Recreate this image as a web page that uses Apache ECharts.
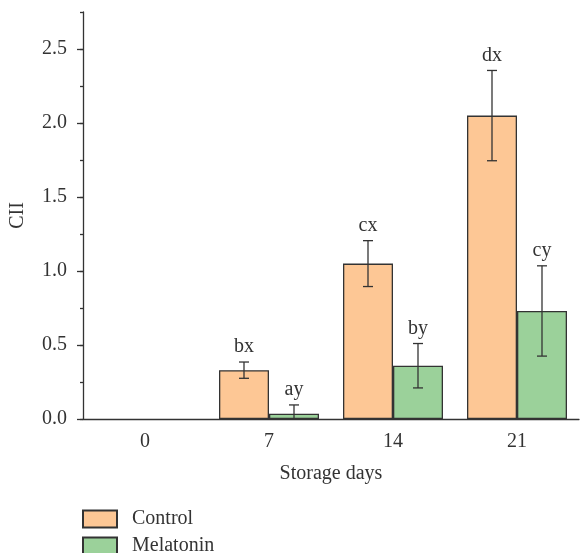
<!DOCTYPE html>
<html>
<head>
<meta charset="utf-8">
<script src="https://cdn.jsdelivr.net/npm/echarts@6/dist/echarts.min.js"></script>
<style>
  html, body { margin: 0; padding: 0; background: #fff; }
  #chart { width: 585px; height: 553px; }
</style>
</head>
<body>
<div id="chart"></div>
<script>
// data
var categories = ['0', '7', '14', '21'];
var controlMean = [0, 0.33, 1.05, 2.05];
var controlErr = [null, 0.055, 0.155, 0.305];
var controlLetters = ['', 'bx', 'cx', 'dx'];
var melatoninMean = [0, 0.035, 0.36, 0.73];
var melatoninErr = [null, 0.06, 0.15, 0.305];
var melatoninLetters = ['', 'ay', 'by', 'cy'];

var FONT = 'Liberation Serif';
var FS = 20;
var INK = '#333';
var barWidth = 50;

var myChart = echarts.init(document.getElementById('chart'));

// zero-height bars would draw a border on top of the axis line
function barData(means) {
    return means.map(function (v) { return v === 0 ? '-' : v; });
}

function errorSeries(means, errs, letters, offset) {
    return {
        type: 'custom',
        xAxisIndex: 0,
        yAxisIndex: 0,
        silent: true,
        z: 5,
        data: means.map(function (m, i) { return [i, m, errs[i] == null ? 0 : errs[i]]; }),
        renderItem: function (params, api) {
            var i = api.value(0), v = api.value(1), e = api.value(2);
            if (!e) return null;
            var x = api.coord([i, v])[0] + offset;
            var yTop = api.coord([i, v + e])[1];
            var yBot = api.coord([i, Math.max(0, v - e)])[1];
            var st = { stroke: INK, lineWidth: 1.3 };
            var kids = [
                { type: 'line', shape: { x1: x, y1: yTop, x2: x, y2: yBot }, style: st },
                { type: 'line', shape: { x1: x - 5, y1: yTop, x2: x + 5, y2: yTop }, style: st }
            ];
            if (v - e > 0) {
                kids.push({ type: 'line', shape: { x1: x - 5, y1: yBot, x2: x + 5, y2: yBot }, style: st });
            }
            kids.push({
                type: 'text',
                style: {
                    x: x, y: yTop - 5, text: letters[params.dataIndex],
                    fill: INK, font: FS + 'px "' + FONT + '"',
                    textAlign: 'center', textVerticalAlign: 'bottom'
                }
            });
            return { type: 'group', children: kids };
        }
    };
}

myChart.setOption({
    animation: false,
    backgroundColor: '#fff',
    grid: [
        { left: 83, right: 6, top: 12, bottom: 134 },
        { left: 83, right: 6, top: 49, bottom: 134 }   // carries the major y ticks (0 - 2.5)
    ],
    legend: {
        orient: 'vertical',
        left: 82,
        top: 509,
        height: 80,
        padding: 0,
        itemWidth: 34,
        itemHeight: 17,
        itemGap: 7,
        icon: 'rect',
        data: ['Control', 'Melatonin'],
        textStyle: { fontFamily: FONT, fontSize: FS, color: INK, lineHeight: 17, padding: [0, 0, 0, 10] }
    },
    xAxis: [
        {
            type: 'category',
            gridIndex: 0,
            data: categories,
            name: 'Storage days',
            nameLocation: 'middle',
            nameGap: 45,
            nameTextStyle: { fontFamily: FONT, fontSize: FS, color: INK },
            axisLine: { lineStyle: { color: INK, width: 1.3 } },
            axisTick: { alignWithLabel: true, length: 6, lineStyle: { color: INK, width: 1.3 } },
            axisLabel: { fontFamily: FONT, fontSize: FS, color: INK, margin: 13 },
            splitLine: { show: false }
        },
        {
            // short ticks on the category boundaries
            type: 'category',
            gridIndex: 0,
            data: categories,
            position: 'bottom',
            axisLine: { show: false },
            axisTick: { length: 3, lineStyle: { color: INK, width: 1.3 } },
            axisLabel: { show: false },
            splitLine: { show: false }
        },
        {
            type: 'category', gridIndex: 1, data: categories, show: false
        }
    ],
    yAxis: [
        {
            type: 'value',
            gridIndex: 0,
            min: 0,
            max: 2.75,
            interval: 0.25,
            name: 'CII',
            nameLocation: 'middle',
            nameGap: 55,
            nameTextStyle: { fontFamily: FONT, fontSize: FS, color: INK },
            axisLine: { show: true, lineStyle: { color: INK, width: 1.3 } },
            axisTick: { show: true, length: 3, lineStyle: { color: INK, width: 1.3 } },
            axisLabel: { show: false },
            splitLine: { show: false }
        },
        {
            type: 'value',
            gridIndex: 1,
            min: 0,
            max: 2.5,
            interval: 0.5,
            axisLine: { show: false },
            axisTick: { show: true, length: 6, lineStyle: { color: INK, width: 1.3 } },
            axisLabel: {
                fontFamily: FONT, fontSize: FS, color: INK, margin: 16,
                formatter: function (v) { return v.toFixed(1); }
            },
            splitLine: { show: false }
        }
    ],
    series: [
        {
            name: 'Control',
            type: 'bar',
            xAxisIndex: 0,
            yAxisIndex: 0,
            data: barData(controlMean),
            barWidth: barWidth,
            barGap: '0%',
            itemStyle: { color: '#FDC795', borderColor: INK, borderWidth: 1.3 }
        },
        {
            name: 'Melatonin',
            type: 'bar',
            xAxisIndex: 0,
            yAxisIndex: 0,
            data: barData(melatoninMean),
            barWidth: barWidth,
            barGap: '0%',
            itemStyle: { color: '#9BD19A', borderColor: INK, borderWidth: 1.3 }
        },
        errorSeries(controlMean, controlErr, controlLetters, -barWidth / 2),
        errorSeries(melatoninMean, melatoninErr, melatoninLetters, barWidth / 2)
    ]
});
window.onresize = myChart.resize;
</script>
</body>
</html>
